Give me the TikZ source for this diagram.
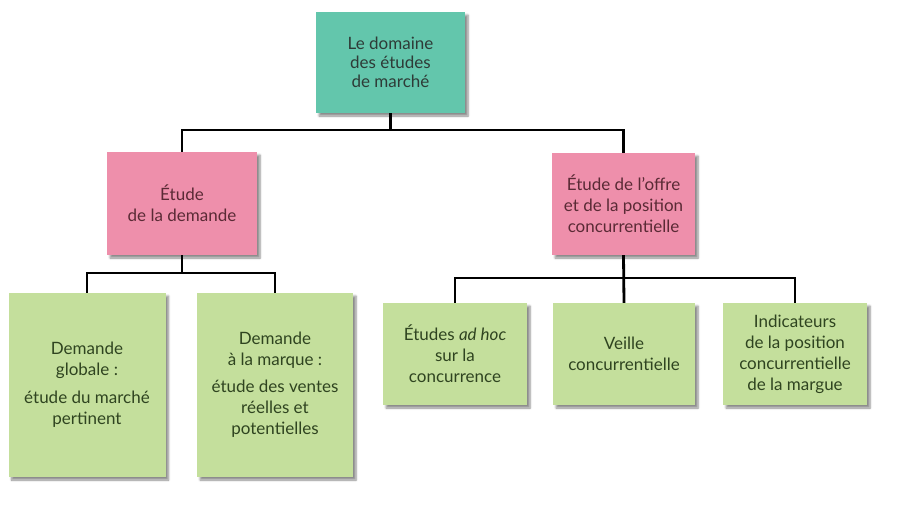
\documentclass[tikz,border=0pt]{standalone}
\usepackage{fontspec}
\setmainfont{Lato}
\usetikzlibrary{shadows.blur}
\definecolor{tealbox}{HTML}{63C6AC}
\definecolor{pinkbox}{HTML}{EE8FAB}
\definecolor{greenbox}{HTML}{C4DF9C}
\definecolor{tealtxt}{HTML}{2E3B37}
\definecolor{pinktxt}{HTML}{5A2A35}
\definecolor{greentxt}{HTML}{2F4420}
\tikzset{
  boxbase/.style={rectangle, align=center, inner sep=2pt,
    blur shadow={shadow xshift=3pt, shadow yshift=-3pt, shadow blur steps=6, shadow opacity=45},
    font=\fontsize{17}{21}\selectfont},
  topbox/.style={boxbase, fill=tealbox, text=tealtxt, font=\fontsize{17}{19}\selectfont},
  midbox/.style={boxbase, fill=pinkbox, text=pinktxt},
  leafbox/.style={boxbase, fill=greenbox, text=greentxt},
  link/.style={line width=2.8pt, black}
}
\begin{document}
\begin{tikzpicture}[x=1pt,y=-1pt]
\useasboundingbox (0,0) rectangle (919,523);
\node[topbox, minimum width=149pt, minimum height=101pt] (top) at (390.5,62.5)
  {Le domaine\\des études\\de marché};
\node[midbox, minimum width=150pt, minimum height=103pt] (pl) at (182,203.5)
  {Étude\\de la demande};
\node[midbox, minimum width=143pt, minimum height=102pt] (pr) at (623.5,204)
  {Étude de l’offre\\et de la position\\concurrentielle};
\node[leafbox, minimum width=157pt, minimum height=184pt] (g1) at (87,385)
  {Demande\\globale :\\[7pt]étude du marché\\pertinent};
\node[leafbox, minimum width=156pt, minimum height=184pt] (g2) at (275,385)
  {Demande\\à la marque :\\[6pt]étude des ventes\\réelles et\\potentielles};
\node[leafbox, minimum width=144pt, minimum height=102pt] (g3) at (455,354)
  {Études \textit{ad hoc}\\sur la\\concurrence};
\node[leafbox, minimum width=142pt, minimum height=102pt] (g4) at (624,354)
  {Veille\\concurrentielle};
\node[leafbox, minimum width=144pt, minimum height=102pt] (g5) at (795,354)
  {Indicateurs\\de la position\\concurrentielle\\de la margue};
% connectors
\draw[link] (top.south) -- (top.south |- 0,130) -| (pl.north);
\draw[link] (top.south |- 0,130) -| (pr.north);
\draw[link] (pl.south) -- (pl.south |- 0,273) -| (g1.north);
\draw[link] (pl.south |- 0,273) -| (g2.north);
\draw[link] (pr.south) -- (g4.north);
\draw[link] (pr.south |- 0,278) -| (g3.north);
\draw[link] (pr.south |- 0,278) -| (g5.north);
\end{tikzpicture}
\end{document}
